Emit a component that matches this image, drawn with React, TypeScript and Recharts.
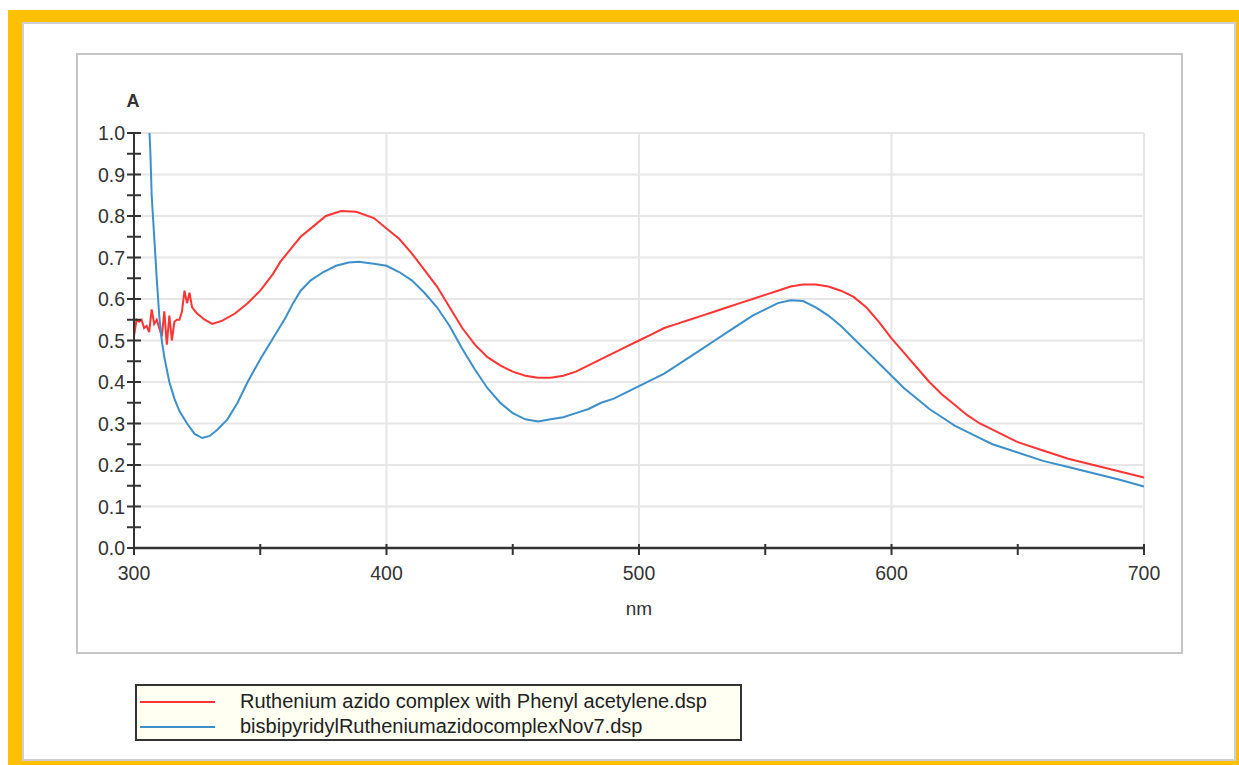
import { CartesianGrid, Legend, Line, LineChart, XAxis, YAxis } from 'recharts';

// wavelengths (nm) and absorbance
const redNm = [
    300, 301, 302, 303, 304, 305, 306, 307, 308, 309, 310, 311, 312, 313, 314, 315, 316, 317, 318, 319, 320,
    321, 322, 323, 325, 328, 331, 335, 340, 345, 350, 355, 358, 362, 366, 371, 376, 382, 388, 395, 400, 405, 410,
    415, 420, 425, 430, 435, 440, 445, 450, 455, 460, 465, 470, 475, 480, 485, 490, 495, 500, 505, 510, 515,
    520, 525, 530, 535, 540, 545, 550, 555, 560, 565, 570, 575, 580, 585, 590, 595, 600, 605, 610, 615, 620,
    625, 630, 635, 640, 645, 650, 660, 670, 680, 690, 700,
];
const redAbs = [
    0.51, 0.55, 0.545, 0.55, 0.53, 0.535, 0.52, 0.575, 0.54, 0.55, 0.53, 0.51, 0.57, 0.49, 0.56, 0.5, 0.545, 0.55, 0.55, 0.57, 0.62,
    0.59, 0.615, 0.58, 0.565, 0.55, 0.54, 0.548, 0.565, 0.59, 0.62, 0.66, 0.69, 0.72, 0.75, 0.775, 0.8, 0.812, 0.81, 0.795, 0.77, 0.745, 0.71,
    0.67, 0.63, 0.58, 0.53, 0.49, 0.46, 0.44, 0.425, 0.415, 0.41, 0.41, 0.415, 0.425, 0.44, 0.455, 0.47, 0.485, 0.5, 0.515, 0.53, 0.54,
    0.55, 0.56, 0.57, 0.58, 0.59, 0.6, 0.61, 0.62, 0.63, 0.635, 0.635, 0.63, 0.62, 0.605, 0.58, 0.545, 0.505, 0.47, 0.435, 0.4, 0.37,
    0.345, 0.32, 0.3, 0.285, 0.27, 0.255, 0.235, 0.215, 0.2, 0.185, 0.17,
];

const blueNm = [
    305.8, 306.5, 307, 308, 309, 310, 311, 312, 314, 316, 318, 321, 324, 327, 330, 333, 337, 341, 345, 350, 355,
    360, 363, 366, 370, 375, 380, 385, 389, 395, 400, 405, 410, 415, 420, 425, 430, 435, 440, 445, 450, 455,
    460, 465, 470, 475, 480, 485, 490, 495, 500, 505, 510, 515, 520, 525, 530, 535, 540, 545, 550, 555, 560,
    565, 570, 575, 580, 585, 590, 595, 600, 605, 610, 615, 620, 625, 630, 635, 640, 650, 660, 670, 680, 690, 700,
];
const blueAbs = [
    1.05, 0.95, 0.85, 0.75, 0.65, 0.56, 0.5, 0.46, 0.4, 0.36, 0.33, 0.3, 0.275, 0.265, 0.27, 0.285, 0.31, 0.35, 0.4, 0.455, 0.505,
    0.555, 0.59, 0.62, 0.645, 0.665, 0.68, 0.688, 0.69, 0.685, 0.68, 0.665, 0.645, 0.615, 0.58, 0.535, 0.48, 0.43, 0.385, 0.35, 0.325, 0.31,
    0.305, 0.31, 0.315, 0.325, 0.335, 0.35, 0.36, 0.375, 0.39, 0.405, 0.42, 0.44, 0.46, 0.48, 0.5, 0.52, 0.54, 0.56, 0.575, 0.59, 0.597,
    0.595, 0.58, 0.56, 0.535, 0.505, 0.475, 0.445, 0.415, 0.385, 0.36, 0.335, 0.315, 0.295, 0.28, 0.265, 0.25, 0.23, 0.21, 0.195, 0.18, 0.165, 0.148,
];

const xTicks = [300, 350, 400, 450, 500, 550, 600, 650, 700];
const xGrid = [400, 500, 600, 700];
const yTicks = [0, 0.05, 0.1, 0.15, 0.2, 0.25, 0.3, 0.35, 0.4, 0.45, 0.5, 0.55, 0.6, 0.65, 0.7, 0.75, 0.8, 0.85, 0.9, 0.95, 1.0];
const yGrid = [0.1, 0.2, 0.3, 0.4, 0.5, 0.6, 0.7, 0.8, 0.9, 1.0];

const seriesNames = ['Ruthenium azido complex with Phenyl acetylene.dsp', 'bisbipyridylRutheniumazidocomplexNov7.dsp'];
const seriesColors = ['#ff3434', '#3d8fcb'];

const redData = redNm.map((nm, i) => ({ nm, a: redAbs[i] }));
const blueData = blueNm.map((nm, i) => ({ nm, a: blueAbs[i] }));

const FONT = '"Liberation Sans", Arial, sans-serif';
const AXIS = '#333';

const XTick = (props: any) => {
    const { x, y, payload } = props;
    const v = payload.value;
    return (
        <g>
            <line x1={x} x2={x} y1={y - 4} y2={y + 7} stroke={AXIS} strokeWidth={2} />
            {v % 100 === 0 && (
                <text x={x} y={y + 32} textAnchor="middle" fontSize={19.5} fill="#333" fontFamily={FONT}>
                    {v}
                </text>
            )}
        </g>
    );
};

const YTick = (props: any) => {
    const { x, y, payload } = props;
    const v = payload.value;
    const major = Math.abs(v * 10 - Math.round(v * 10)) < 1e-6;
    return (
        <g>
            <line x1={x - 7} x2={x + 7} y1={y} y2={y} stroke={AXIS} strokeWidth={2} />
            {major && (
                <text x={x - 9} y={y + 7} textAnchor="end" fontSize={19.5} fill="#333" fontFamily={FONT}>
                    {v.toFixed(1)}
                </text>
            )}
        </g>
    );
};

const LegendBox = () => (
    <div
        style={{
            width: 607,
            height: 57,
            boxSizing: 'border-box',
            border: '2px solid #333',
            background: '#fffff2',
            fontFamily: FONT,
            fontSize: 20,
            color: '#222',
            paddingTop: 3,
        }}
    >
        {seriesNames.map((name, i) => (
            <div key={name} style={{ display: 'flex', alignItems: 'center', height: 25 }}>
                <div style={{ width: 75, height: 2, background: seriesColors[i], marginLeft: 3 }} />
                <span style={{ marginLeft: 25, whiteSpace: 'nowrap' }}>{name}</span>
            </div>
        ))}
    </div>
);

export default function App() {
    return (
        <div style={{ position: 'fixed', left: 0, top: 0, width: 1239, height: 765, background: '#fff', overflow: 'hidden' }}>
            <div style={{ position: 'absolute', left: 8, top: 10, width: 1231, height: 755, background: '#ffc000' }} />
            <div
                style={{
                    position: 'absolute',
                    left: 22,
                    top: 22,
                    width: 1214,
                    height: 739,
                    boxSizing: 'border-box',
                    background: '#fff',
                    border: '2px solid #cfcfcf',
                }}
            />
            <div
                style={{
                    position: 'absolute',
                    left: 76,
                    top: 53,
                    width: 1107,
                    height: 601,
                    boxSizing: 'border-box',
                    background: '#fff',
                    border: '2px solid #c6c6c6',
                }}
            />
            <div style={{ position: 'absolute', left: 0, top: 0 }}>
                <LineChart width={1239} height={765} margin={{ top: 133, right: 95, bottom: 137, left: 74 }}>
                    <CartesianGrid
                        stroke="#e6e6e6"
                        strokeWidth={2}
                        horizontalValues={yGrid}
                        verticalValues={xGrid}
                    />
                    <XAxis
                        dataKey="nm"
                        type="number"
                        domain={[300, 700]}
                        ticks={xTicks}
                        interval={0}
                        height={80}
                        tickSize={0}
                        tickMargin={0}
                        tick={<XTick />}
                        stroke={AXIS}
                        strokeWidth={2.5}
                        allowDuplicatedCategory={false}
                        label={{ value: 'nm', position: 'insideTop', offset: 54, fontSize: 19, fill: '#333', fontFamily: FONT }}
                    />
                    <YAxis
                        dataKey="a"
                        type="number"
                        domain={[0, 1]}
                        allowDataOverflow
                        ticks={yTicks}
                        interval={0}
                        width={60}
                        tickSize={0}
                        tickMargin={0}
                        tick={<YTick />}
                        stroke={AXIS}
                        strokeWidth={2}
                        label={{
                            content: (p: any) => (
                                <text
                                    x={p.viewBox.x + p.viewBox.width - 1}
                                    y={p.viewBox.y - 26}
                                    textAnchor="middle"
                                    fontSize={18}
                                    fontWeight="bold"
                                    fill="#333"
                                    fontFamily={FONT}
                                >
                                    A
                                </text>
                            ),
                        }}
                    />
                    <Line
                        data={redData}
                        dataKey="a"
                        name={seriesNames[0]}
                        stroke={seriesColors[0]}
                        strokeWidth={2}
                        dot={false}
                        isAnimationActive={false}
                    />
                    <Line
                        data={blueData}
                        dataKey="a"
                        name={seriesNames[1]}
                        stroke={seriesColors[1]}
                        strokeWidth={2}
                        dot={false}
                        isAnimationActive={false}
                    />
                    <Legend
                        layout="vertical"
                        align="center"
                        verticalAlign="middle"
                        content={<LegendBox />}
                        wrapperStyle={{ left: 135, top: 684, width: 607 }}
                    />
                </LineChart>
            </div>
        </div>
    );
}
